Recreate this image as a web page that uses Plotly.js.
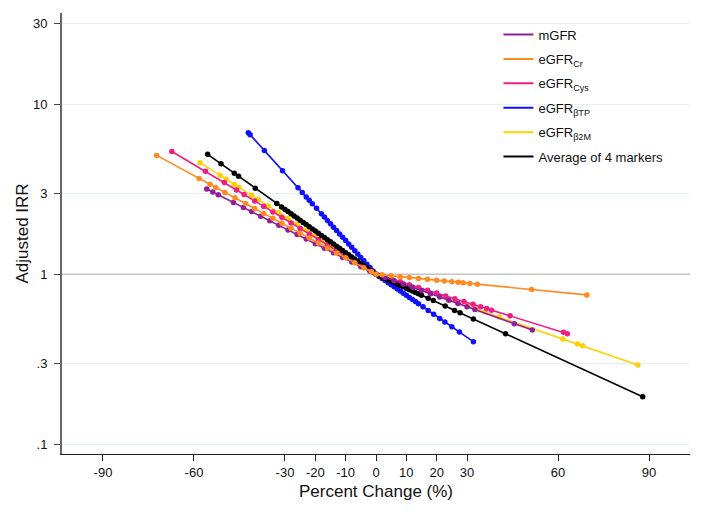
<!DOCTYPE html>
<html>
<head>
<meta charset="utf-8">
<script src="https://cdn.plot.ly/plotly-3.0.1.min.js"></script>
<style>html,body{margin:0;padding:0;background:#fff;}#chart{width:704px;height:516px;}</style>
</head>
<body>
<div id="chart"></div>
<script>
// Series names (legend labels)
const seriesNames = ["mGFR", "eGFR<sub>Cr</sub>", "eGFR<sub>Cys</sub>", "eGFR<sub>βTP</sub>", "eGFR<sub>β2M</sub>", "Average of 4 markers"];

// mGFR
const mgfrX = [-55.8,-53.8,-52,-47,-43.7,-41,-38,-35,-32,-29,-26,-23,-20,-17,-14,-11,-8,-5,-2,0,3,6,9,12,15,18,21,24,27,30,32.6,45.6,51.5];
const mgfrY = [3.178,3.050,2.938,2.649,2.474,2.339,2.198,2.065,1.941,1.824,1.714,1.611,1.514,1.422,1.337,1.256,1.180,1.109,1.042,1,0.957,0.916,0.876,0.839,0.802,0.768,0.735,0.703,0.673,0.644,0.620,0.512,0.470];

// eGFR Cr
const crX = [-72.3,-58.3,-54.7,-52.8,-49.8,-46.5,-43,-40,-37,-34,-31,-28,-25,-22,-19,-16,-13,-10,-7,-4,-1.5,0,2,5,8,11,14,17,20,22.5,25,27.1,28.7,30.9,33.4,51.3,69.5];
const crY = [5.01,3.667,3.384,3.244,3.034,2.819,2.608,2.439,2.281,2.134,1.996,1.866,1.746,1.633,1.527,1.428,1.336,1.250,1.169,1.093,1.034,1,0.992,0.980,0.968,0.957,0.945,0.934,0.923,0.913,0.904,0.897,0.891,0.883,0.874,0.813,0.756];

// eGFR Cys
const cysX = [-67.3,-56.2,-50,-46,-43.5,-40,-37,-34,-31,-28,-25,-22,-19,-16,-13,-10,-7,-4,-1.5,0,2,5,8,11,14,17,20,23,26,29,32,34.5,36.5,38.1,44.2,61.8,63.1];
const cysY = [5.28,4.046,3.467,3.139,2.950,2.704,2.509,2.329,2.162,2.006,1.862,1.728,1.604,1.489,1.382,1.282,1.190,1.105,1.038,1,0.975,0.938,0.903,0.869,0.836,0.805,0.775,0.746,0.718,0.691,0.665,0.644,0.628,0.615,0.569,0.455,0.447];

// eGFR beta-trace protein
const btpX = [-42.1,-41.5,-36.8,-30.8,-25.7,-24.3,-23,-22,-21,-19.6,-18,-17,-16,-15,-14,-13,-12,-11,-10,-9,-8,-7,-6,-5,-4,-3,-2,-1,0,1,2,3,4,5,6,7,8,9,10,11,12,13,14,15.5,17.2,19,21,22.7,25,27.5,32.1];
const btpY = [6.817,6.633,5.353,4.072,3.228,3.028,2.854,2.727,2.605,2.444,2.272,2.171,2.074,1.982,1.893,1.809,1.728,1.651,1.578,1.507,1.440,1.376,1.315,1.256,1.200,1.147,1.095,1.047,1,0.972,0.945,0.918,0.892,0.867,0.843,0.819,0.796,0.774,0.752,0.731,0.711,0.691,0.671,0.643,0.613,0.582,0.550,0.524,0.491,0.457,0.401];

// eGFR beta2-microglobulin
const b2mX = [-58,-51.4,-49.4,-46.7,-45.2,-41,-38.8,-35.5,-32,-29,-26,-23,-20,-17,-14,-11,-8,-5,-2,0,3,6,9,12,15,18,21,24,27,30,33,36,40.6,61.6,66.4,68.1,86.3];
const b2mY = [4.541,3.823,3.628,3.381,3.252,2.914,2.752,2.525,2.305,2.131,1.970,1.822,1.685,1.558,1.441,1.332,1.232,1.139,1.054,1,0.958,0.918,0.880,0.843,0.808,0.774,0.741,0.710,0.681,0.652,0.625,0.599,0.561,0.416,0.388,0.379,0.292];

// Average of 4 markers
const avgX = [-55.5,-51.1,-46.7,-45.3,-39.8,-32.7,-31.1,-30,-29,-28,-27,-26,-25,-24,-23,-22,-21,-20,-19,-18,-17,-16,-15,-14,-13,-12,-11,-10,-9,-8,-7,-6,-5,-4,-3,-2,-1,0,1,2,3,4,5,6,7,8,9,10,11,12,13,14,15,17.2,18.9,22.8,25.9,27.7,32.1,42.7,87.9];
const avgY = [5.08,4.467,3.927,3.770,3.208,2.606,2.486,2.408,2.338,2.271,2.205,2.141,2.080,2.020,1.961,1.905,1.849,1.796,1.745,1.694,1.645,1.598,1.552,1.507,1.463,1.421,1.380,1.340,1.302,1.264,1.228,1.192,1.158,1.124,1.092,1.060,1.030,1,0.981,0.963,0.945,0.927,0.910,0.893,0.876,0.860,0.844,0.828,0.812,0.797,0.782,0.768,0.753,0.723,0.700,0.650,0.613,0.593,0.546,0.447,0.190];

// Axis ticks
const xTickVals = [-90,-60,-30,-20,-10,0,10,20,30,60,90];
const xTickText = ["-90","-60","-30","-20","-10","0","10","20","30","60","90"];
const yTickVals = [0.1,0.3,1,3,10,30];
const yTickText = [".1",".3","1","3","10","30"];
const yGridVals = [0.1,0.3,3,10,30];   // light grid lines
const yRefLine = 1;                    // grey reference line

const colors = ["#8f1f9c", "#ff8a22", "#f01d87", "#1010ff", "#ffd000", "#000000"];
const xs = [mgfrX, crX, cysX, btpX, b2mX, avgX];
const ys = [mgfrY, crY, cysY, btpY, b2mY, avgY];
// drawing order (bottom to top)
const drawOrder = [3, 4, 2, 5, 0, 1];

const font = "Liberation Sans, Arial, Helvetica, sans-serif";
const dataTraces = drawOrder.map(i => ({
  type: "scatter",
  mode: "lines+markers",
  x: xs[i], y: ys[i],
  name: seriesNames[i],
  line: {color: colors[i], width: 1.6},
  marker: {color: colors[i], size: 5.5},
  showlegend: false
}));
// legend entries (line samples only, as in the reference key)
const legendTraces = seriesNames.map((n, i) => ({
  type: "scatter",
  mode: "lines",
  x: [null], y: [null],
  name: n,
  legendgroup: "g" + i,
  legendrank: i + 1,
  line: {color: colors[i], width: 2},
  showlegend: true,
  hoverinfo: "skip"
}));

const layout = {
  width: 704, height: 516,
  margin: {l: 62, r: 14, t: 13, b: 62, autoexpand: false},
  paper_bgcolor: "#ffffff",
  plot_bgcolor: "#ffffff",
  font: {family: font, size: 13, color: "#111"},
  showlegend: true,
  legend: {
    x: 0.695, xanchor: "left", y: 0.985, yanchor: "top",
    bgcolor: "rgba(0,0,0,0)", borderwidth: 0,
    font: {family: font, size: 13, color: "#111"},
    traceorder: "grouped", tracegroupgap: 4.5,
    itemclick: false
  },
  xaxis: {
    range: [-103.5, 103.5],
    tickmode: "array", tickvals: xTickVals, ticktext: xTickText,
    showgrid: false, zeroline: false,
    showline: true, linecolor: "#222", linewidth: 1.2,
    ticks: "outside", ticklen: 6, tickcolor: "#222", tickwidth: 1,
    tickfont: {family: font, size: 13, color: "#111"},
    title: {text: "Percent Change (%)", font: {family: font, size: 17, color: "#111"}, standoff: 6},
    automargin: false
  },
  yaxis: {
    type: "log",
    range: [-1.058, 1.538],
    tickmode: "array", tickvals: yTickVals, ticktext: yTickText,
    showgrid: false,
    minor: {tickmode: "array", tickvals: yGridVals, showgrid: true, gridcolor: "#e6eff2", gridwidth: 1, ticks: ""},
    zeroline: false,
    showline: true, linecolor: "#666", linewidth: 2,
    ticks: "outside", ticklen: 6, tickcolor: "#444", tickwidth: 1,
    ticklabelstandoff: 4,
    tickfont: {family: font, size: 13, color: "#111"},
    title: {text: "Adjusted IRR", font: {family: font, size: 17, color: "#111"}, standoff: 0},
    automargin: false
  },
  shapes: [{
    type: "line", xref: "paper", yref: "y", x0: 0, x1: 1, y0: yRefLine, y1: yRefLine,
    line: {color: "#c4c4c4", width: 1.5}, layer: "below"
  }]
};

Plotly.newPlot("chart", dataTraces.concat(legendTraces), layout, {displayModeBar: false, staticPlot: true});
</script>
</body>
</html>
